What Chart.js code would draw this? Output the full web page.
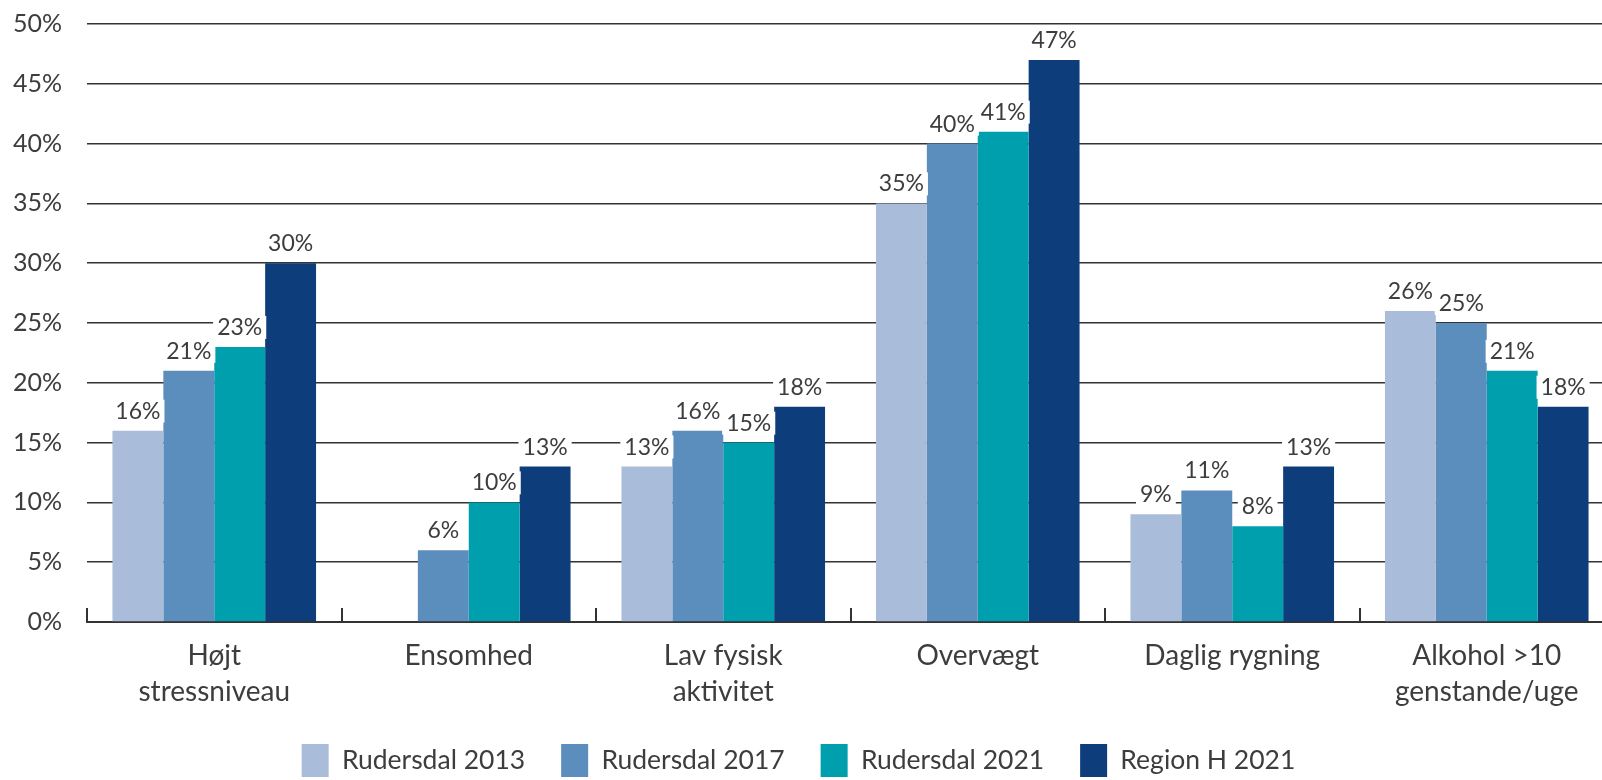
<!DOCTYPE html>
<html lang="da">
<head>
<meta charset="UTF-8" />
<meta name="viewport" content="width=device-width, initial-scale=1.0" />
<title>Sundhed Rudersdal</title>
<script src="https://cdn.jsdelivr.net/npm/chart.js@4.4.1/dist/chart.umd.min.js"></script>
<style>
  html, body { margin: 0; padding: 0; background: #fff; overflow: hidden; }
  #wrap { position: relative; width: 1616px; height: 790px; }
</style>
</head>
<body>
<div id="wrap"><canvas id="myChart"></canvas></div>
<script>
// kategorier og serier
const categories = [
  ["Højt", "stressniveau"],
  "Ensomhed",
  ["Lav fysisk", "aktivitet"],
  "Overvægt",
  "Daglig rygning",
  ["Alkohol >10", "genstande/uge"]
];
const seriesNames = ["Rudersdal 2013", "Rudersdal 2017", "Rudersdal 2021", "Region H 2021"];
const rudersdal2013 = [16, null, 13, 35, 9, 26];
const rudersdal2017 = [21, 6, 16, 40, 11, 25];
const rudersdal2021 = [23, 10, 15, 41, 8, 21];
const regionH2021 = [30, 13, 18, 47, 13, 18];
const yMax = 50;
const yStep = 5;

const seriesColors = ["#a9bdda", "#5b8ebd", "#009fae", "#0e3d7b"];
const textColor = "#3d3d3d";
const lineColor = "#333333";
const fontFam = "Lato, 'Liberation Sans', sans-serif";

// procent over hver søjle, med hvid baggrund
const valueLabels = {
  id: "valueLabels",
  afterDatasetsDraw(chart) {
    const ctx = chart.ctx;
    ctx.save();
    ctx.font = "23px " + fontFam;
    ctx.textAlign = "center";
    ctx.textBaseline = "alphabetic";
    chart.data.datasets.forEach((ds, di) => {
      const meta = chart.getDatasetMeta(di);
      meta.data.forEach((bar, i) => {
        const v = ds.data[i];
        if (v === null || v === undefined) return;
        const txt = v + "%";
        const w = ctx.measureText(txt).width;
        const by = bar.y - 12;
        ctx.fillStyle = "#fff";
        ctx.fillRect(bar.x - w / 2 - 4, by - 19, w + 8, 23);
        ctx.fillStyle = textColor;
        ctx.fillText(txt, bar.x, by);
      });
    });
    ctx.restore();
  }
};

// små lodrette streger mellem grupperne
const groupTicks = {
  id: "groupTicks",
  afterDatasetsDraw(chart) {
    const x = chart.scales.x;
    const ctx = chart.ctx;
    const half = (x.getPixelForValue(1) - x.getPixelForValue(0)) / 2;
    const yb = chart.chartArea.bottom;
    ctx.save();
    ctx.strokeStyle = lineColor;
    ctx.lineWidth = 2;
    for (let i = 0; i <= categories.length; i++) {
      const px = Math.round(x.getPixelForValue(i) - half);
      ctx.beginPath();
      ctx.moveTo(px, yb);
      ctx.lineTo(px, yb - 14);
      ctx.stroke();
    }
    ctx.restore();
  }
};

// flyt forklaringen lidt til venstre
const legendShift = {
  id: "legendShift",
  afterLayout(chart) {
    if (chart.legend) chart.legend.right -= 17;
  }
};

const datas = [rudersdal2013, rudersdal2017, rudersdal2021, regionH2021];

var ctx = document.getElementById("myChart");
var myChart = new Chart(ctx, {
  type: "bar",
  data: {
    labels: categories,
    datasets: datas.map((d, i) => ({
      label: seriesNames[i],
      data: d,
      backgroundColor: seriesColors[i],
      borderWidth: 0,
      barPercentage: 1,
      categoryPercentage: 0.8
    }))
  },
  options: {
    responsive: true,
    maintainAspectRatio: false,
    animation: false,
    devicePixelRatio: 1,
    layout: { padding: { top: 24, right: 2, bottom: 3, left: 0 } },
    scales: {
      x: {
        grid: { display: false, drawTicks: false },
        border: { display: true, color: lineColor, width: 2 },
        ticks: {
          color: textColor,
          font: { family: fontFam, size: 28, lineHeight: 1.285 },
          padding: 16,
          maxRotation: 0,
          autoSkip: false
        },
        afterFit(scale) { scale.height = 86; }
      },
      y: {
        min: 0,
        max: yMax,
        grid: { color: lineColor, lineWidth: 1.5, drawTicks: false },
        border: { display: false },
        ticks: {
          stepSize: yStep,
          color: textColor,
          font: { family: fontFam, size: 25 },
          padding: 25,
          callback: (v) => v + "%"
        },
        afterFit(scale) {
          scale.width = 87;
          scale.paddingTop = 0;
          scale.paddingBottom = 0;
        }
      }
    },
    plugins: {
      legend: {
        position: "bottom",
        onClick: () => {},
        labels: {
          boxWidth: 27,
          boxHeight: 33,
          padding: 36,
          color: textColor,
          font: { family: fontFam, size: 26.5 }
        }
      },
      tooltip: { enabled: false }
    }
  },
  plugins: [valueLabels, groupTicks, legendShift]
});
</script>
</body>
</html>
